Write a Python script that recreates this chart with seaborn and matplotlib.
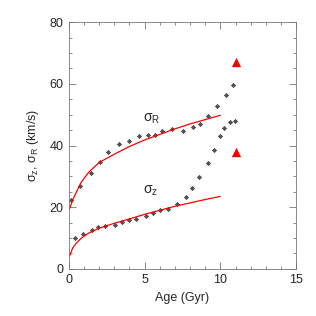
import numpy as np
import pandas as pd
import seaborn as sns
import matplotlib
matplotlib.use('Agg')
import matplotlib.pyplot as plt
from matplotlib.ticker import MultipleLocator

age_R = [0.15, 0.73, 1.45, 2.05, 2.58, 3.28, 3.95, 4.61, 5.20, 5.68, 6.17, 6.83,
         7.51, 8.22, 8.68, 9.21, 9.80, 10.36, 10.86]
sig_R = [22.2, 27.0, 31.0, 34.8, 37.8, 40.5, 41.5, 43.1, 43.5, 43.5, 44.7, 45.2,
         44.8, 45.9, 47.0, 49.6, 52.8, 56.4, 59.6]
age_z = [0.38, 0.91, 1.50, 1.92, 2.36, 3.02, 3.50, 3.99, 4.45, 5.09, 5.55, 5.99,
         6.52, 7.14, 7.73, 8.15, 8.57, 9.21, 9.58, 9.98, 10.22, 10.66, 10.95]
sig_z = [10.1, 11.2, 12.6, 13.5, 13.8, 14.3, 15.3, 15.8, 16.1, 17.3, 18.2, 19.1,
         19.3, 21.1, 23.4, 26.3, 29.9, 34.2, 38.6, 43.0, 45.7, 47.6, 47.8]

# fitted heating curves (red lines)
fit_age = [0.05, 0.25, 0.5, 0.8, 1.3, 2.0, 3.0, 4.0, 5.0, 6.0, 7.0, 8.0, 9.0, 10.0]
fit_R = [19.5, 22.4, 25.0, 28.0, 31.3, 34.5, 37.2, 39.7, 41.8, 43.6, 45.4, 47.0, 48.4, 49.8]
fit_z = [4.2, 6.8, 8.4, 9.9, 11.6, 13.2, 14.8, 16.2, 17.7, 19.0, 20.3, 21.4, 22.5, 23.5]

# thick disc values (red triangles)
tri_age = [11.0, 11.0]
tri_sig = [67.0, 38.0]

sns.set_style('ticks')
plt.rcParams['font.family'] = ['Liberation Sans', 'DejaVu Sans']
plt.rcParams['mathtext.fontset'] = 'custom'
plt.rcParams['mathtext.rm'] = 'Liberation Sans'
plt.rcParams['mathtext.it'] = 'Liberation Sans'

fig = plt.figure(figsize=(3.16, 3.16), dpi=100)
ax = fig.add_axes([0.218, 0.149, 0.719, 0.781])

fit_df = pd.DataFrame({'age': fit_age, 'R': fit_R, 'z': fit_z})
sns.lineplot(x='age', y='R', data=fit_df, color='red', lw=0.9, ax=ax)
sns.lineplot(x='age', y='z', data=fit_df, color='red', lw=0.9, ax=ax)

pts = pd.DataFrame({'age': age_R + age_z, 'sig': sig_R + sig_z})
sns.scatterplot(x='age', y='sig', data=pts, marker=(8, 2, 0), s=8,
                color='#555555', linewidth=0.5, ax=ax)
sns.scatterplot(x=tri_age, y=tri_sig, marker='^', s=45, color='red',
                edgecolor='red', linewidth=0, ax=ax)

ax.text(4.9, 48.5, r'$\sigma_{\mathrm{R}}$', fontsize=10, va='center')
ax.text(4.9, 25.3, r'$\sigma_{\mathrm{z}}$', fontsize=10, va='center')

ax.set_xlim(0, 15)
ax.set_ylim(0, 80)
ax.xaxis.set_major_locator(MultipleLocator(5))
ax.xaxis.set_minor_locator(MultipleLocator(1))
ax.yaxis.set_major_locator(MultipleLocator(20))
ax.yaxis.set_minor_locator(MultipleLocator(5))
ax.tick_params(which='both', direction='in', top=True, right=True,
               color='#777777', width=0.6, labelsize=9, pad=4)
ax.tick_params(which='major', length=5)
ax.tick_params(which='minor', length=2.5)
for s in ax.spines.values():
    s.set_color('#777777')
    s.set_linewidth(0.6)

ax.set_xlabel('Age (Gyr)', fontsize=9, labelpad=4)
ax.set_ylabel(r'$\sigma_{\mathrm{z}}$, $\sigma_{\mathrm{R}}$ (km/s)', fontsize=9, labelpad=6)

plt.savefig('out.png', dpi=100)
plt.close()
